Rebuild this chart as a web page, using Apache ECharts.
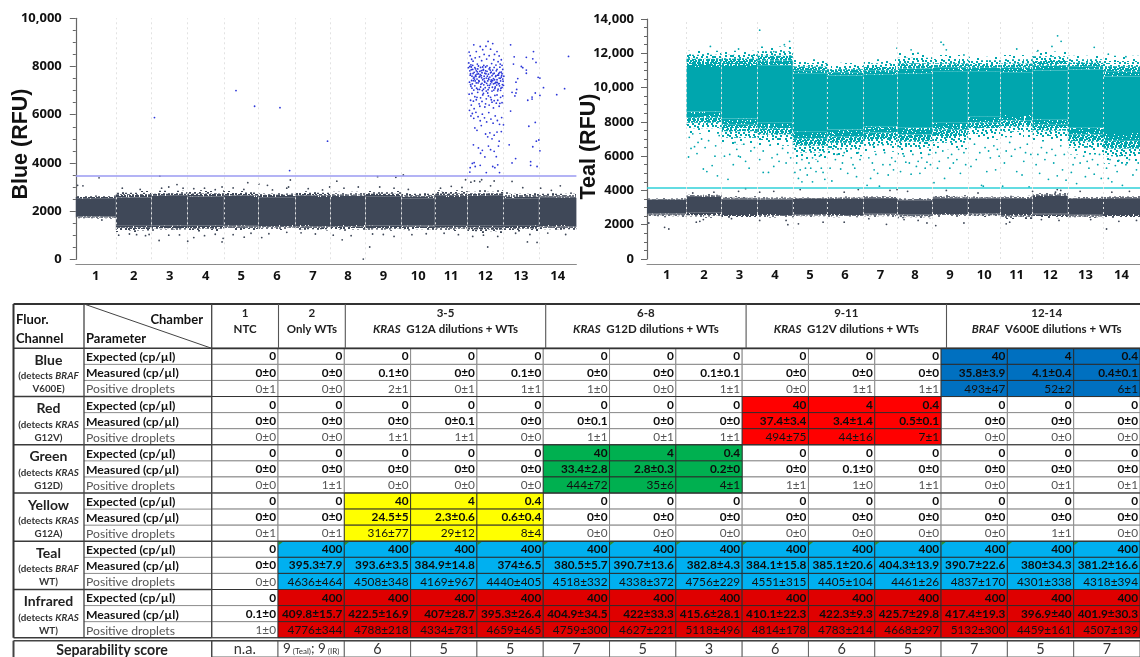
<!DOCTYPE html>
<html><head><meta charset="utf-8">
<script src="https://cdn.jsdelivr.net/npm/echarts@6/dist/echarts.min.js"></script>
<style>html,body{margin:0;padding:0;background:#fff}#c{width:1140px;height:657px}</style>
</head><body><div id="c"></div>
<script>
// ---------- droplet plot data ----------
const chamberEdges=[0,1.12,2.12,3.13,4.14,5.11,6.14,7.12,8.10,9.11,10.04,10.95,11.95,12.95,14];
const chamberNames=['1','2','3','4','5','6','7','8','9','10','11','12','13','14'];
const blueThreshold=3450, tealThreshold=4130;
const blueNegLow =[1790,1390,1400,1400,1410,1420,1420,1420,1400,1400,1390,1390,1410,1420];
const blueNegHigh=[2510,2560,2590,2610,2590,2570,2590,2580,2620,2530,2590,2590,2530,2550];
const blueNegFringeLow =[1680,1130,1180,1150,1200,1220,1190,1180,1180,1200,1170,1090,1150,1190];
const blueNegFringeHigh=[2650,2830,2840,2860,2830,2790,2820,2800,2830,2780,2870,2870,2780,2770];
const tealNegLow =[2650,2700,2620,2620,2620,2620,2640,2600,2680,2660,2620,2640,2580,2620];
const tealNegHigh=[3450,3620,3480,3470,3500,3500,3520,3430,3550,3530,3500,3620,3500,3520];
const tealNegFringeLow =[2440,2400,2400,2420,2450,2430,2450,2380,2470,2450,2330,2380,2390,2400];
const tealNegFringeHigh=[3560,3790,3660,3630,3620,3640,3680,3560,3720,3650,3690,3900,3630,3680];
const tealPosLow =[null,8600,8200,7950,7450,7550,7750,7650,7950,8300,8400,8150,7650,7350];
const tealPosHigh=[null,11200,11200,11300,10800,10700,10750,10800,10950,10950,10900,11000,11050,10650];
const tealPosFringeLow =[null,7300,6700,6600,5800,6000,6250,6100,6400,6950,7100,6850,6100,5550];
const tealPosFringeHigh=[null,12150,12150,12400,11650,11450,11650,12050,11900,11800,11900,12100,11850,11850];
// chamber position, RFU pairs
const bluePositive=[
11.00,8600,11.03,8450,11.07,8300,11.13,8900,11.20,8620,11.31,8830,11.38,8700,11.42,8500,11.47,8840,11.53,9040,11.60,8720,11.66,8950,11.71,8500,11.78,8620,11.84,8440,11.90,8280,
10.99,8150,11.05,8070,11.11,8220,11.17,8360,11.23,8100,11.29,8400,11.35,8240,11.41,8050,11.49,8310,11.56,8450,11.63,8120,11.69,8280,11.75,8060,11.81,8200,11.87,8100,11.92,8050,
10.98,7950,11.02,7820,11.04,7700,11.06,7980,11.08,7600,11.10,7880,11.12,7520,11.14,7760,11.16,7950,11.18,7640,11.20,7820,11.22,7480,11.24,7900,11.26,7700,11.28,7560,11.30,7800,11.32,7960,11.34,7620,11.36,7740,11.38,7450,11.40,7880,11.42,7600,11.44,7720,11.46,7980,11.48,7520,11.50,7800,11.52,7400,11.54,7680,11.56,7900,11.58,7560,11.60,7740,11.62,7440,11.64,7620,11.66,7850,11.68,7500,11.70,7720,11.72,7300,11.74,7580,11.76,7820,11.78,7450,11.80,7640,11.82,7280,11.84,7520,11.86,7760,11.88,7400,11.90,7560,11.92,7700,11.94,7480,11.97,7600,
11.01,7350,11.05,7180,11.09,7280,11.13,7020,11.17,7400,11.21,7100,11.25,7320,11.29,7050,11.33,7260,11.37,7000,11.41,7240,11.45,7120,11.49,7300,11.53,7040,11.57,7220,11.61,7380,11.65,7140,11.69,7020,11.73,7150,11.77,7230,11.81,7060,11.85,7200,11.89,7100,11.93,7250,
11.00,6850,11.04,6600,11.08,6880,11.12,6560,11.16,6750,11.20,6620,11.24,6930,11.28,6450,11.32,6700,11.36,6550,11.40,6880,11.44,6320,11.48,6660,11.52,6900,11.56,6400,11.60,6720,11.64,6520,11.68,6280,11.72,6800,11.76,6480,11.80,6600,11.84,6350,11.88,6720,11.92,6500,
11.01,6180,11.05,5950,11.09,6050,11.13,5850,11.19,6100,11.25,5920,11.31,5750,11.37,6020,11.43,5870,11.49,5700,11.55,6090,11.61,5820,11.67,5650,11.73,5950,11.79,5760,11.85,5600,11.91,5880,11.96,5580,
11.16,5450,11.22,5350,11.34,5550,11.46,5200,11.52,5080,11.58,5250,11.64,5000,11.70,5150,11.78,5280,11.84,4900,11.90,5300,
11.12,4750,11.26,4620,11.32,4400,11.37,4520,11.44,4250,11.54,4700,11.60,4550,11.70,4480,11.76,4260,11.82,4700,
11.03,3800,11.09,3980,11.14,4010,11.17,3850,11.31,3900,11.48,3600,11.66,3850,11.72,3800,11.80,3920,11.85,3600,11.02,3620,
11.03,7640,11.07,7420,11.11,7710,11.15,7480,11.19,7590,11.23,7780,11.27,7410,11.31,7660,11.35,7530,11.39,7840,11.43,7390,11.47,7700,11.51,7600,11.55,7460,11.59,7850,11.63,7360,11.67,7690,11.71,7450,11.75,7620,11.79,7340,11.83,7710,11.87,7510,11.91,7620,11.95,7390,
11.02,8000,11.06,7870,11.10,8050,11.14,7560,11.18,7900,11.22,7680,11.26,8020,11.30,7590,11.34,7830,11.38,7980,11.42,7500,11.46,7820,11.50,8030,11.54,7510,11.58,7950,11.62,7770,11.66,7420,11.70,7960,11.74,7340,11.78,7880,11.82,7640,11.86,7970,11.90,7770,11.94,7880,
11.04,7250,11.08,7100,11.12,7410,11.16,7200,11.20,7320,11.24,7050,11.28,7380,11.32,7150,11.36,7300,11.40,7060,11.44,7350,11.48,6980,11.52,7220,11.56,7120,11.60,7280,11.64,6980,11.68,7280,11.72,7090,11.76,7340,11.80,6990,11.84,7290,11.88,7010,11.92,7130,11.96,7220,
11.06,6400,11.14,6250,11.22,6720,11.30,6350,11.38,6820,11.46,6450,11.54,6780,11.62,6620,11.70,6580,11.78,6820,11.86,6470,11.94,6780];
const blueScattered=[2.2,5880,4.48,7000,5.0,6350,5.71,6290,7.04,4900,5.98,3680,
12.16,8900,12.26,8400,12.24,8100,12.50,7950,12.46,8000,12.6,8380,12.6,7850,12.8,8620,12.78,8320,12.87,8170,12.36,7500,12.31,7350,12.6,7720,12.93,7550,12.98,7520,12.33,7050,12.2,6930,12.28,6780,12.31,6900,12.64,6600,12.76,6650,12.76,6730,12.85,6900,12.98,6800,12.16,6150,12.67,5520,12.85,5680,12.12,4750,12.78,4670,12.88,4900,12.95,4950,12.98,4500,12.3,4180,12.2,4000,12.72,4050,12.72,3900,12.9,3850,
13.08,7120,13.67,7080,13.45,6830,13.78,8420];
const blueNegOutliers=[0.05,3070,0.2,3050,0.65,3380,2.35,3450,2.83,3100,3.0,2950,4.09,3000,4.81,3180,5.12,3120,5.36,3070,6.0,3290,5.95,3000,8.44,3430,8.95,3400,9.16,3500,7.3,3240,7.1,3000,11.3,3220,10.9,3300,11.05,3200,11.15,3250,11.35,3300,11.7,3250,13.55,3050,12.2,3230,0.73,1630,2.33,780,3.13,750,4.09,720,4.12,870,4.71,920,5.2,900,7.45,810,8.22,510,8.04,10,11.52,510,12.63,720,12.9,700,
1.2,1000,1.5,1050,1.7,1020,1.95,980,2.05,1030,2.6,1000,2.9,1010,3.3,900,3.6,980,3.9,1040,4.4,1020,4.9,1080,5.4,1060,5.9,1120,6.3,1100,6.7,1050,7.2,1000,7.7,980,8.3,1050,8.6,1030,8.9,950,9.4,1020,9.8,1060,10.3,1080,10.7,1020,11.1,950,11.4,1000,11.8,950,12.3,1080,12.7,1030,13.2,1090,13.7,1030,
1.3,2950,1.8,2900,2.4,2950,2.6,3000,3.3,2930,3.6,2950,3.9,2890,4.4,2960,4.7,2900,5.5,2880,5.9,2950,6.5,2930,6.9,2880,7.5,2950,7.9,3000,8.5,3000,8.9,2950,9.3,2900,10.2,2950,10.5,3030,10.8,2980,11.6,3050,12.5,2970,13.0,2950,13.3,2860];
const tealScattered=[
1.18,5950,1.25,6450,1.35,6550,1.42,6150,1.6,5250,1.7,5100,1.85,5450,1.93,6000,2.0,4850,2.05,7200,1.3,7300,1.55,7000,1.75,6900,1.95,6600,1.2,7100,1.45,6800,1.65,6500,
2.3,4650,2.35,6100,2.45,5500,2.55,6400,2.65,5950,2.8,5700,2.95,6300,2.5,6800,2.75,6700,3.05,6500,2.2,6000,2.6,6000,2.9,5300,
3.3,5050,3.45,5050,3.55,5900,3.6,5400,3.7,6100,3.5,6650,3.85,6450,4.0,6200,3.3,6300,3.95,5600,3.2,5800,3.75,5700,4.08,5900,
4.2,5050,4.3,4700,4.4,4500,4.5,5300,4.55,4900,4.6,5600,4.7,4500,4.8,5100,4.85,5700,4.95,5300,5.05,4650,4.25,5600,4.4,5800,4.7,5900,4.9,6000,4.35,5200,4.65,5300,5.0,5050,
5.25,4550,5.35,5800,5.5,5250,5.7,5000,5.9,5300,6.05,5800,5.4,6100,5.6,6200,5.8,5900,6.0,6200,5.95,4800,5.2,5300,5.55,5600,5.85,5500,
6.25,4300,6.35,4700,6.45,5200,6.55,5000,6.7,5500,6.85,4900,7.0,5200,6.3,5900,6.5,6100,6.75,6200,6.95,5900,6.6,4250,6.4,5600,6.9,5500,7.05,5700,
7.2,5100,7.35,5650,7.5,4950,7.65,5400,7.75,5000,7.9,5300,8.05,5500,7.3,6000,7.55,6100,7.8,5900,8.0,6100,7.45,5600,7.7,5700,7.95,5650,
8.15,4450,8.3,5700,8.45,4700,8.6,5300,8.7,5600,8.9,5000,9.05,5500,8.2,6200,8.4,6300,8.65,6100,8.85,6400,9.0,6200,8.25,5300,8.55,5900,8.8,5800,
9.2,5400,9.35,5800,9.5,4300,9.55,4250,9.65,5100,9.75,5900,9.9,5200,10.0,6000,9.3,6700,9.6,6500,9.85,6600,9.45,6200,9.7,6300,9.95,6400,
10.1,4250,10.15,5600,10.35,6000,10.5,5100,10.65,4900,10.7,5700,10.85,4200,10.9,6100,10.3,6800,10.6,6500,10.8,6700,10.2,6300,10.45,6400,10.75,6200,
11.05,5500,11.15,5000,11.3,5800,11.4,4650,11.55,5600,11.65,4850,11.8,5200,11.9,4600,11.2,6500,11.5,6400,11.75,6600,11.1,6100,11.35,6200,11.6,6050,11.85,6100,
12.05,5050,12.2,4400,12.3,5600,12.45,4800,12.55,5300,12.7,4950,12.8,5500,12.9,4700,12.15,5900,12.4,6000,12.65,5800,12.85,6100,12.1,5500,12.5,5700,
13.05,5300,13.1,4700,13.2,4500,13.35,5100,13.5,4300,13.6,5500,13.8,4900,13.9,5200,13.15,5800,13.4,5750,13.7,5800,13.95,5600,13.3,5450];
const tealHighOutliers=[3.2,13350,11.66,13020,11.76,12700,12.7,12350,8.35,12650,8.42,12500,8.5,12200,7.1,12300,1.8,12400,3.9,12500,4.05,12700,10.5,12250,11.1,12150,11.5,12400,13.1,11950,13.6,11800,2.6,12250,3.6,12100,7.5,12200,9.0,11900];
const tealNegOutliers=[0.05,2100,0.5,1850,0.62,1750,1.4,2150,1.6,2300,1.5,2200,2.4,2350,3.2,2250,3.95,2250,4.0,2000,4.3,2050,5.0,2150,5.6,2150,6.3,2350,6.8,2020,7.3,2300,7.7,2250,7.95,2100,8.2,1950,9.0,2100,10.2,2050,10.3,2150,11.2,2300,11.7,2250,12.6,2300,13.05,1750,13.4,2200,13.9,2250,
2.6,3950,2.8,4100,3.2,3900,3.6,3950,4.35,4050,5.6,3900,6.0,4050,6.9,4000,7.1,4050,7.4,3950,8.5,4000,9.4,3850,10.95,3950,11.6,3900,11.65,4050,11.75,4000,12.3,3950,13.2,3900,13.7,3950,1.3,3850,1.9,3900];
// ---------- table data ----------
const fluorNames=[['Blue','BRAF','V600E)'],['Red','KRAS','G12V)'],['Green','KRAS','G12D)'],['Yellow','KRAS','G12A)'],['Teal','BRAF','WT)'],['Infrared','KRAS','WT)']];
const paramNames=['Expected (cp/µl)','Measured (cp/µl)','Positive droplets'];
const tableRows=[
['0','0','0','0','0','0','0','0','0','0','0','40','4','0.4'],
['0±0','0±0','0.1±0','0±0','0.1±0','0±0','0±0','0.1±0.1','0±0','0±0','0±0','35.8±3.9','4.1±0.4','0.4±0.1'],
['0±1','0±0','2±1','0±1','1±1','1±0','0±0','1±1','0±0','1±1','1±1','493±47','52±2','6±1'],
['0','0','0','0','0','0','0','0','40','4','0.4','0','0','0'],
['0±0','0±0','0±0','0±0.1','0±0','0±0.1','0±0','0±0','37.4±3.4','3.4±1.4','0.5±0.1','0±0','0±0','0±0'],
['0±0','0±0','1±1','1±1','0±0','1±1','0±1','1±1','494±75','44±16','7±1','0±0','0±0','0±0'],
['0','0','0','0','0','40','4','0.4','0','0','0','0','0','0'],
['0±0','0±0','0±0','0±0','0±0','33.4±2.8','2.8±0.3','0.2±0','0±0','0.1±0','0±0','0±0','0±0','0±0'],
['0±0','1±1','0±0','0±0','0±0','444±72','35±6','4±1','1±1','1±0','1±1','0±0','0±1','0±1'],
['0','0','40','4','0.4','0','0','0','0','0','0','0','0','0'],
['0±0','0±0','24.5±5','2.3±0.6','0.6±0.4','0±0','0±0','0±0','0±0','0±0','0±0','0±0','0±0','0±0'],
['0±1','0±1','316±77','29±12','8±4','0±0','0±0','0±0','0±0','0±0','0±0','0±0','1±1','0±0'],
['0','400','400','400','400','400','400','400','400','400','400','400','400','400'],
['0±0','395.3±7.9','393.6±3.5','384.9±14.8','374±6.5','380.5±5.7','390.7±13.6','382.8±4.3','384.1±15.8','385.1±20.6','404.3±13.9','390.7±22.6','380±34.3','381.2±16.6'],
['0±0','4636±464','4508±348','4169±967','4440±405','4518±332','4338±372','4756±229','4551±315','4405±104','4461±26','4837±170','4301±338','4318±394'],
['0','400','400','400','400','400','400','400','400','400','400','400','400','400'],
['0.1±0','409.8±15.7','422.5±16.9','407±28.7','395.3±26.4','404.9±34.5','422±33.3','415.6±28.1','410.1±22.3','422.3±9.3','425.7±29.8','417.4±19.3','396.9±40','401.9±30.3'],
['1±0','4776±344','4788±218','4334±731','4659±465','4759±300','4627±221','5118±496','4814±178','4783±214','4668±297','5132±300','4459±161','4507±139']];
const separability=['n.a.','9|9','6','5','5','7','5','3','6','6','5','7','5','7'];
const positiveCols=[[11,12,13],[8,9,10],[5,6,7],[2,3,4],[1,2,3,4,5,6,7,8,9,10,11,12,13],[1,2,3,4,5,6,7,8,9,10,11,12,13]];
const channelFill=['#0070c0','#ff0000','#00b050','#ffff00','#00b0f0','#df0000'];
const headerSingles=[['1','NTC'],['2','Only WTs']];
const headerGroups=[['3-5','KRAS','G12A dilutions + WTs'],['6-8','KRAS','G12D dilutions + WTs'],['9-11','KRAS','G12V dilutions + WTs'],['12-14','BRAF','V600E dilutions + WTs']];

// ---------- helpers ----------
const F='Lato, "Open Sans", sans-serif';
const AX='"Open Sans", sans-serif';
const DARK='#3f4858', TEAL='#00a6ae', BLUE='#2b36d8';
const pairs=a=>{const o=[];for(let i=0;i<a.length;i+=2)o.push([a[i],a[i+1]]);return o;};
const mids=chamberEdges.slice(1).map((e,i)=>(e+chamberEdges[i])/2);
const bandRows=(lo,hi)=>lo.map((l,i)=>l==null?null:[chamberEdges[i],chamberEdges[i+1],l,hi[i]]).filter(Boolean);
function band(name,ax,rows,fill,z){
  return {type:'custom',name,xAxisIndex:ax,yAxisIndex:ax,z,silent:true,data:rows,encode:{x:[0,1],y:[2,3]},clip:true,
    renderItem(p,api){
      const a=api.coord([api.value(0),api.value(3)]),b=api.coord([api.value(1),api.value(2)]);
      return {type:'rect',shape:{x:a[0],y:a[1],width:b[0]-a[0],height:b[1]-a[1]},style:{fill}};
    }};
}
// speckle texture for the dense fuzzy edge of a droplet cloud (fill style only, deterministic)
const tileCache={};
function speckle(color,n){
  const k=color+n; if(tileCache[k])return tileCache[k];
  const cv=document.createElement('canvas');cv.width=cv.height=64;const g=cv.getContext('2d');g.fillStyle=color;
  for(let i=1;i<=n;i++){g.fillRect(Math.floor((i*0.754877*64)%64),Math.floor((i*0.569840*64)%64),2,2);}
  return tileCache[k]={image:cv,repeat:'repeat'};
}
const tierDots=[1500,850,360,110];
// fringe: speckle thins out away from the solid body; up=true means the body is below
function fringe(name,ax,rows,color,z,up){
  return {type:'custom',name,xAxisIndex:ax,yAxisIndex:ax,z,silent:true,data:rows,encode:{x:[0,1],y:[2,3]},clip:true,
    renderItem(p,api){
      const a=api.coord([api.value(0),api.value(3)]),b=api.coord([api.value(1),api.value(2)]);
      const h=(b[1]-a[1])/tierDots.length;
      return {type:'group',children:tierDots.map((n,t)=>({type:'rect',
        shape:{x:a[0],y:up?b[1]-(t+1)*h:a[1]+t*h,width:b[0]-a[0],height:h},style:{fill:speckle(color,n)}}))};
    }};
}
function scatter(ax,data,color,z,size){
  return {type:'scatter',xAxisIndex:ax,yAxisIndex:ax,data:pairs(data),symbolSize:size||1.8,itemStyle:{color,opacity:1},z,silent:true};
}
function guides(ax,threshold,color){
  return {type:'scatter',xAxisIndex:ax,yAxisIndex:ax,data:[],z:8,silent:true,
    markLine:{silent:true,symbol:'none',animation:false,label:{show:false},
      data:[{yAxis:threshold,lineStyle:{color,width:1.6,type:'solid'}}].concat(
        chamberEdges.slice(1,-1).map(x=>({xAxis:x,lineStyle:{color:'#e2e2e2',width:1,type:[2,3]}})))}};
}
const xAxisOf=(g)=>({type:'value',gridIndex:g,min:0,max:14,position:'bottom',offset:5,
  axisLine:{show:true,onZero:false,lineStyle:{color:'#8a8a8a',width:1}},axisTick:{show:false},splitLine:{show:false},
  axisLabel:{customValues:mids,color:'#111',fontFamily:AX,fontWeight:700,fontSize:13,margin:5,
    formatter:(v)=>chamberNames[mids.indexOf(v)]}});
const yAxisOf=(g,max,m)=>({type:'value',gridIndex:g,min:0,max,interval:2000,offset:5,
  axisLine:{show:true,lineStyle:{color:'#666',width:1.2}},
  axisTick:{show:true,length:6,lineStyle:{color:'#666'}},
  minorTick:{show:true,splitNumber:4,length:3,lineStyle:{color:'#666'}},
  splitLine:{show:false},minorSplitLine:{show:false},
  axisLabel:{color:'#111',fontFamily:AX,fontWeight:700,fontSize:13,margin:m,
    formatter:v=>v>=10000?String(v).replace(/(\d+)(\d{3})$/,'$1,$2'):String(v)}});

// ---------- table layout ----------
const T={l:13.5,c1:84,c2:211.7,colW:66.8,top:304,head:348.3,rowH:16.08,bot:637.7,sep:640.7};
const tcell=[];
tableRows.forEach((row,r)=>row.forEach((v,c)=>tcell.push({c,r,on:positiveCols[Math.floor(r/3)].includes(c)})));
tcell.sort((a,b)=>a.on-b.on);
function renderCell(params,api){
  const cell=tcell[params.dataIndex];
  const p=api.coord([cell.c,cell.r]),s=api.size([1,1]);
  const x=p[0]-s[0]/2,y=p[1]-s[1]/2;
  const ch=Math.floor(cell.r/3),kind=cell.r%3;
  const fill=cell.on?channelFill[ch]:'#fff';
  const kids=[{type:'rect',shape:{x,y,width:s[0],height:s[1]},style:{fill,stroke:cell.on?'#2a2a2a':'#8c8c8c',lineWidth:cell.on?0.9:1}}];
  kids.push({type:'text',style:{text:tableRows[cell.r][cell.c],x:x+s[0]-2,y:p[1]+0.3,align:'right',textAlign:'right',verticalAlign:'middle',textVerticalAlign:'middle',
    font:(kind===2?'400 ':'700 ')+'11.8px '+F,fill:kind===2?(cell.on?'#111':'#555'):'#0c0c0c'}});
  if(ch===4&&kind===0&&cell.on) kids.push({type:'polygon',shape:{points:[[x+0.5,y+0.5],[x+5,y+0.5],[x+0.5,y+4]]},style:{fill:'#2f8f2f'}});
  return {type:'group',children:kids};
}
function renderSep(params,api){
  const c=params.dataIndex,p=api.coord([c,0]),s=api.size([1,1]);
  const x=p[0]-s[0]/2,y=p[1]-s[1]/2,kids=[{type:'rect',shape:{x,y,width:s[0],height:s[1]},style:{fill:'#fff',stroke:'#666',lineWidth:1}}];
  const v=separability[c];
  if(v.includes('|')){const[a,b]=v.split('|');
    kids.push({type:'text',style:{text:'{n|'+a+'}{s| (Teal)}{n|; '+b+'}{s| (IR)}',x:p[0],y:p[1]+0,align:'center',textAlign:'center',verticalAlign:'middle',textVerticalAlign:'middle',
      rich:{n:{font:'400 13.5px '+F,fill:'#333',color:'#333'},s:{font:'400 8px '+F,fill:'#333',color:'#333',verticalAlign:'bottom'}}}});
  } else kids.push({type:'text',style:{text:v,x:p[0],y:p[1]+0,align:'center',textAlign:'center',verticalAlign:'middle',textVerticalAlign:'middle',font:'400 14.5px '+F,fill:'#333'}});
  return {type:'group',children:kids};
}
// header + left column graphics
const gr=[];
const txt=(text,x,y,font,fill,align,extra)=>gr.push(Object.assign({type:'text',z:20,silent:true,style:Object.assign({text,x,y,font,fill:fill||'#111',align:align||'left',textAlign:align||'left',verticalAlign:'middle',textVerticalAlign:'middle'},extra||{})}));
const line=(x1,y1,x2,y2,c,w)=>gr.push({type:'line',z:19,silent:true,shape:{x1,y1,x2,y2},style:{stroke:c,lineWidth:w}});
for(let i=0;i<=18;i++){const y=T.head+i*T.rowH;
  line(i%3===0?T.l:T.c1,y,T.c2,y,i%3===0?'#3a3a3a':'#8c8c8c',i%3===0?1.4:1);}
for(let i=0;i<=18;i+=3){line(T.c2,T.head+i*T.rowH,1140,T.head+i*T.rowH,'#333',i===0?1.8:1.1);}
line(T.l,T.top,1140,T.top,'#333',2);
line(T.l,T.top,T.l,T.bot,'#333',2);
line(T.c1,T.top,T.c1,T.bot,'#444',1.3);
line(T.c2,T.top,T.c2,T.bot,'#444',1.3);
[1,2,5,8,11].forEach(k=>line(T.c2+k*T.colW,T.top,T.c2+k*T.colW,T.head,'#555',1.1));
line(T.c1,T.top,T.c2,T.head,'#444',1);
line(T.l,T.sep,1140,T.sep,'#444',1.4);
line(T.l,T.sep,T.l,657,'#444',2);
line(T.c2,T.sep,T.c2,657,'#444',1.3);
const hf='700 13px '+F;
txt('Fluor.',16,320,hf);
txt('Channel',16,338.5,hf);
txt('Chamber',203,320,hf,'#111','right');
txt('Parameter',86,339,hf);
headerSingles.forEach((h,i)=>{const cx=T.c2+(i+0.5)*T.colW;
  txt(h[0],cx,313,'700 11.5px '+F,'#222','center');txt(h[1],cx,329,'700 11.5px '+F,'#222','center');});
headerGroups.forEach((h,i)=>{const cx=T.c2+(2+3*i+1.5)*T.colW;
  txt(h[0],cx,313,'700 11.5px '+F,'#222','center');
  txt('{i|'+h[1]+'}{b|  '+h[2]+'}',cx,329,undefined,'#222','center',{rich:{i:{font:'italic 700 11.5px '+F,fill:'#222',color:'#222'},b:{font:'700 11.5px '+F,fill:'#222',color:'#222'}}});});
fluorNames.forEach((n,i)=>{const top=T.head+i*3*T.rowH;
  txt(n[0],48.5,top+12,'700 14px '+F,'#222','center');
  txt('{a|(detects }{i|'+n[1]+'}',48.5,top+28,undefined,'#333','center',{rich:{a:{font:'700 9.8px '+F,fill:'#333',color:'#333'},i:{font:'italic 700 9.8px '+F,fill:'#333',color:'#333'}}});
  txt(n[2],48.5,top+41,'700 9.8px '+F,'#333','center');});
txt('Separability score',112,650,'700 14.2px '+F,'#222','center');
txt('Blue (RFU)',0,0,'700 21.5px "Liberation Sans", Arial, sans-serif','#111','center');
gr[gr.length-1]=Object.assign(gr[gr.length-1],{x:21,y:144,rotation:Math.PI/2});
txt('Teal (RFU)',0,0,'700 21.5px "Liberation Sans", Arial, sans-serif','#111','center');
gr[gr.length-1]=Object.assign(gr[gr.length-1],{x:589,y:146.5,rotation:Math.PI/2});

const series=[
 fringe('blue neg fringe high',0,bandRows(blueNegHigh,blueNegFringeHigh),DARK,2,true),
 fringe('blue neg fringe low',0,bandRows(blueNegFringeLow,blueNegLow),DARK,2,false),
 band('blue neg',0,bandRows(blueNegLow,blueNegHigh),DARK,3),
 scatter(0,blueNegOutliers,DARK,4),
 scatter(0,blueScattered,BLUE,5),
 scatter(0,bluePositive,BLUE,5),
 guides(0,blueThreshold,'#9a9af2'),
 fringe('teal pos fringe high',1,bandRows(tealPosHigh,tealPosFringeHigh),TEAL,2,true),
 fringe('teal pos fringe low',1,bandRows(tealPosFringeLow,tealPosLow),TEAL,2,false),
 band('teal pos',1,bandRows(tealPosLow,tealPosHigh),TEAL,3),
 scatter(1,tealScattered,TEAL,4),
 scatter(1,tealHighOutliers,TEAL,4),
 fringe('teal neg fringe high',1,bandRows(tealNegHigh,tealNegFringeHigh),DARK,2,true),
 fringe('teal neg fringe low',1,bandRows(tealNegFringeLow,tealNegLow),DARK,2,false),
 band('teal neg',1,bandRows(tealNegLow,tealNegHigh),DARK,3),
 scatter(1,tealNegOutliers,DARK,4),
 guides(1,tealThreshold,'#2fd0d8'),
 {type:'custom',xAxisIndex:2,yAxisIndex:2,data:tcell.map(t=>[t.c,t.r]),encode:{x:0,y:1},renderItem:renderCell,silent:true,z:5,clip:false},
 {type:'custom',xAxisIndex:3,yAxisIndex:3,data:separability.map((v,i)=>[i,0]),encode:{x:0,y:1},renderItem:renderSep,silent:true,z:5,clip:false}
];
const chart=echarts.init(document.getElementById('c'),null,{renderer:'canvas'});
const rowCats=[];fluorNames.forEach(()=>paramNames.forEach(p=>rowCats.push(p)));
chart.setOption({animation:false,backgroundColor:'#fff',
 grid:[{left:75.8,top:18.3,width:500.6,height:241},{left:647,top:19,width:499,height:240},
       {left:T.c2,top:T.head,width:14*T.colW,height:18*T.rowH},{left:T.c2,top:T.sep,width:14*T.colW,height:22}],
 xAxis:[xAxisOf(0),xAxisOf(1),
  {type:'category',gridIndex:2,data:chamberNames,show:false},{type:'category',gridIndex:3,data:chamberNames,show:false}],
 yAxis:[yAxisOf(0,10000,9),yAxisOf(1,14000,8),
  {type:'category',gridIndex:2,inverse:true,data:rowCats,axisLine:{show:false},axisTick:{show:false},splitLine:{show:false},
   axisLabel:{show:true,interval:0,align:'left',margin:T.c2-86,padding:[2,0,0,0],
     formatter:(v)=>v.startsWith('Positive')?'{p|'+v+'}':'{b|'+v+'}',
     rich:{b:{fontFamily:F,fontWeight:700,fontSize:12.2,color:'#111'},p:{fontFamily:F,fontWeight:400,fontSize:12.2,color:'#555'}}}},
  {type:'category',gridIndex:3,data:['score'],show:false}],
 series,graphic:{elements:gr}});
</script></body></html>
